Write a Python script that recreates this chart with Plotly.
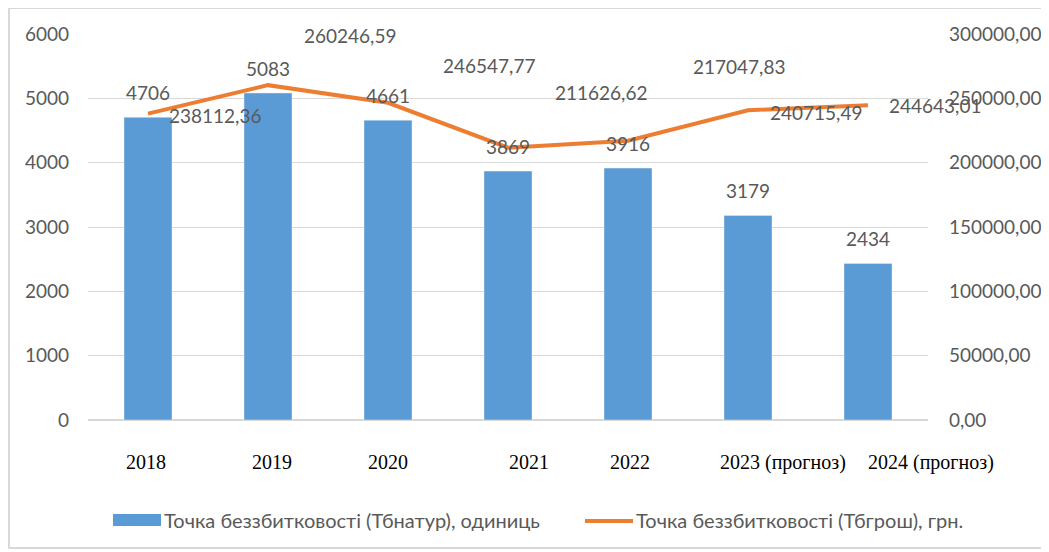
import plotly.graph_objects as go

years = ["2018", "2019", "2020", "2021", "2022", "2023 (прогноз)", "2024 (прогноз)"]
units = [4706, 5083, 4661, 3869, 3916, 3179, 2434]
money = [238112.36, 260246.59, 246547.77, 211626.62, 217047.83, 240715.49, 244643.01]
name_units = "Точка беззбитковості (Тбнатур), одиниць"
name_money = "Точка беззбитковості (Тбгрош), грн."

# label offsets (px) copied from the reference's layout
money_dx = [67, 82, 101, 93, 111, 68, 67]
money_dy = [-2, 50, 37, 55, 74, -2, 0]
year_dx = [-2, 4, 0, 21, 2, 35, 63]

BLUE = "#5B9BD5"
ORANGE = "#ED7D31"
GRAY = "#595959"
FONT = "Lato, Open Sans, sans-serif"

# the page body adds an 8px offset; work in reference pixel coords and compensate
OFF = 8
W, H = 1049 - OFF, 552 - OFF
L, R, T, B = 88 - OFF, 928 - OFF, 34 - OFF, 420 - OFF
def px(xr):
    return (xr - OFF - L) / (R - L)
def py(yr):
    return (B - (yr - OFF)) / (B - T)

fig = go.Figure()
fig.add_trace(go.Bar(x=years, y=units, name=name_units, marker_color=BLUE,
                     width=0.4, yaxis="y", showlegend=False))
fig.add_trace(go.Scatter(x=years, y=money, name=name_money, mode="lines",
                         line=dict(color=ORANGE, width=4), yaxis="y2", showlegend=False))

ann = []
for i, v in enumerate(units):
    ann.append(dict(x=i, y=v, xref="x", yref="y", text=str(v), showarrow=False,
                    yanchor="bottom", yshift=11, font=dict(size=19, color=GRAY, family=FONT)))
for i, (v, dx, dy) in enumerate(zip(money, money_dx, money_dy)):
    ann.append(dict(x=i, y=v, xref="x", yref="y2", text=f"{v:.2f}".replace(".", ","),
                    showarrow=False, xshift=dx, yshift=dy,
                    font=dict(size=19, color=GRAY, family=FONT)))
for i, (lab, dx) in enumerate(zip(years, year_dx)):
    ann.append(dict(x=i, y=0, xref="x", yref="paper", text=lab, showarrow=False,
                    yanchor="middle", yshift=-42, xshift=dx,
                    font=dict(size=20, color="black",
                              family="Liberation Serif, Times New Roman, serif")))
# custom legend texts
ann.append(dict(x=px(162), y=py(520), xref="paper", yref="paper", text=name_units,
                showarrow=False, xanchor="left", yanchor="middle",
                font=dict(size=20, color=GRAY, family=FONT)))
ann.append(dict(x=px(634), y=py(520), xref="paper", yref="paper", text=name_money,
                showarrow=False, xanchor="left", yanchor="middle",
                font=dict(size=20, color=GRAY, family=FONT)))

shapes = [
    dict(type="rect", xref="paper", yref="paper", x0=px(9), x1=px(1046),
         y0=py(548), y1=py(8), line=dict(color="#D9D9D9", width=2), layer="below"),
    dict(type="rect", xref="paper", yref="paper", x0=px(113), x1=px(161),
         y0=py(526), y1=py(514), fillcolor=BLUE, line=dict(width=0)),
    dict(type="line", xref="paper", yref="paper", x0=px(585), x1=px(633),
         y0=py(521), y1=py(521), line=dict(color=ORANGE, width=4)),
]

fig.update_layout(
    width=W, height=H,
    margin=dict(l=L, r=W - R, t=T, b=H - B, pad=0),
    paper_bgcolor="white", plot_bgcolor="white",
    separators=",.",
    font=dict(family=FONT, color=GRAY, size=16),
    showlegend=False,
    xaxis=dict(type="category", showticklabels=False, showgrid=False, showline=False,
               ticks="", range=[-0.5, 6.5], automargin=False),
    yaxis=dict(range=[0, 6000], dtick=1000, tickformat="d", showgrid=True,
               gridcolor="#D9D9D9", gridwidth=1, zeroline=True, zerolinecolor="#D9D9D9",
               tickfont=dict(size=19, color=GRAY), ticklabelstandoff=18, showline=False,
               automargin=False),
    yaxis2=dict(range=[0, 300000], dtick=50000, tickformat=".2f", overlaying="y",
                side="right", showgrid=False, zeroline=False,
                tickfont=dict(size=19, color=GRAY), ticklabelstandoff=20,
                automargin=False),
    annotations=ann,
    shapes=shapes,
)

fig.write_html("out.html")
